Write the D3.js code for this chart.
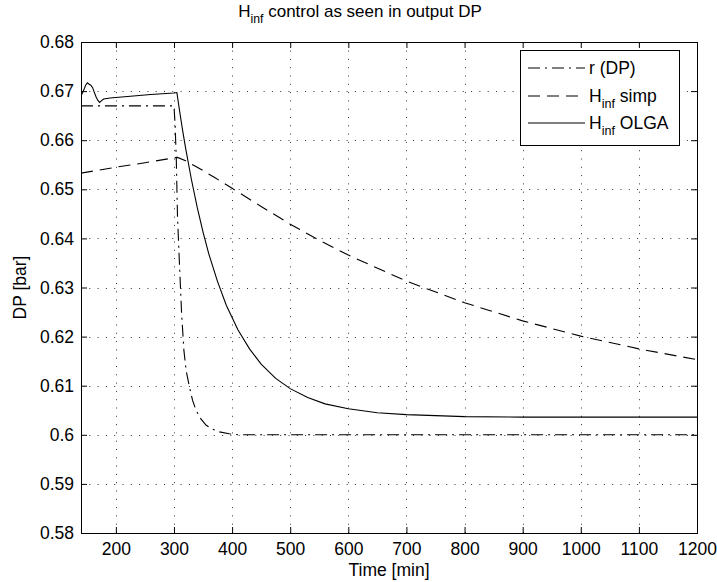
<!DOCTYPE html>
<html>
<head>
<meta charset="utf-8">
<script src="https://cdn.jsdelivr.net/npm/d3@7/dist/d3.min.js"></script>
<style>
  body { margin: 0; background: #fff; }
  svg { display: block; }
  text { font-family: "Liberation Sans", Arial, Helvetica, sans-serif; fill: #000; }
</style>
</head>
<body>
<svg id="chart" width="717" height="582"></svg>
<script>
// ---------------- data ----------------
const xTicks = [200, 300, 400, 500, 600, 700, 800, 900, 1000, 1100, 1200];
const yTicks = [0.58, 0.59, 0.60, 0.61, 0.62, 0.63, 0.64, 0.65, 0.66, 0.67, 0.68];
const yTickLabels = ["0.58", "0.59", "0.6", "0.61", "0.62", "0.63", "0.64", "0.65", "0.66", "0.67", "0.68"];
const xDomain = [140, 1200];
const yDomain = [0.58, 0.68];

// r (DP) reference: time, value
const refTime  = [140, 300, 302, 304, 306, 309, 313, 317, 321, 326, 332, 338, 346, 355, 365, 378, 395, 412, 1200];
const refValue = [0.667, 0.667, 0.6630, 0.6560, 0.6447, 0.6360, 0.6250, 0.6173, 0.6130, 0.6101, 0.6070, 0.6050, 0.6033, 0.6020, 0.6012, 0.6006, 0.6002, 0.6000, 0.6000];

// H_inf simp
const simpTime  = [140, 200, 250, 290, 306, 320, 340, 370, 400, 450, 500, 550, 600, 700, 800, 900, 1000, 1100, 1200];
const simpValue = [0.6533, 0.6545, 0.6554, 0.6562, 0.6565, 0.6558, 0.6545, 0.6524, 0.6502, 0.6465, 0.6429, 0.6396, 0.6366, 0.6313, 0.6269, 0.6232, 0.6201, 0.6175, 0.6153];

// H_inf OLGA
const olgaTime  = [140, 144, 148, 151, 154, 157, 160, 163, 166, 169, 172, 175, 179, 190, 220, 260, 300, 305,
                   310, 315, 320, 330, 340, 350, 360, 375, 390, 410, 430, 450, 475, 500, 530, 560, 600, 650, 700, 800, 900, 1000, 1200];
const olgaValue = [0.6690, 0.6700, 0.6712, 0.6717, 0.6714, 0.6712, 0.6707, 0.6697, 0.6688, 0.6681, 0.6677, 0.6680, 0.6684, 0.6686, 0.6689, 0.6693, 0.6696, 0.6697,
                   0.6657, 0.6619, 0.6584, 0.6520, 0.6463, 0.6413, 0.6368, 0.6312, 0.6264, 0.6214, 0.6175, 0.6144, 0.6115, 0.6094, 0.6076, 0.6063, 0.6053, 0.6045, 0.6041, 0.6037, 0.6036, 0.6036, 0.6036];

const legendLabels = [
  { main: "r (DP)", sub: "", rest: "" },
  { main: "H", sub: "inf", rest: " simp" },
  { main: "H", sub: "inf", rest: " OLGA" }
];

// ---------------- layout ----------------
const svg = d3.select("#chart");
const L = 81, R = 697, T = 42, B = 533;
const x = d3.scaleLinear().domain(xDomain).range([L, R]);
const y = d3.scaleLinear().domain(yDomain).range([B, T]);
const FS = 17.5;

// grid
const grid = svg.append("g");
grid.selectAll("line.gx").data(xTicks.filter(d => d < xDomain[1])).enter().append("line")
  .attr("x1", d => Math.round(x(d)) + 0.5).attr("x2", d => Math.round(x(d)) + 0.5)
  .attr("y1", B).attr("y2", T)
  .attr("stroke", "#333").attr("stroke-width", 1).attr("stroke-dasharray", "1,7.3");
grid.selectAll("line.gy").data(yTicks.filter(d => d > yDomain[0] && d < yDomain[1])).enter().append("line")
  .attr("y1", d => Math.round(y(d)) + 0.5).attr("y2", d => Math.round(y(d)) + 0.5)
  .attr("x1", L).attr("x2", R)
  .attr("stroke", "#333").attr("stroke-width", 1).attr("stroke-dasharray", "1,7.3");

// axes (box with inward ticks on all sides)
const tickLen = 6;
const axB = d3.axisBottom(x).tickValues(xTicks).tickSize(-tickLen).tickPadding(10).tickFormat(d3.format("d"));
const axT = d3.axisTop(x).tickValues(xTicks).tickSize(-tickLen).tickFormat("");
const axL = d3.axisLeft(y).tickValues(yTicks).tickSize(-tickLen).tickPadding(7).tickFormat((d, i) => yTickLabels[i]);
const axR = d3.axisRight(y).tickValues(yTicks).tickSize(-tickLen).tickFormat("");

function styleAxis(g) {
  g.select(".domain").remove();
  g.selectAll(".tick line").attr("stroke", "#000");
  g.selectAll(".tick text").attr("font-size", FS).attr("font-family", "Liberation Sans, Arial, sans-serif");
}
svg.append("g").attr("transform", `translate(0,${B})`).call(axB).call(styleAxis);
svg.append("g").attr("transform", `translate(0,${T})`).call(axT).call(styleAxis);
svg.append("g").attr("transform", `translate(${L},0)`).call(axL).call(styleAxis);
svg.append("g").attr("transform", `translate(${R},0)`).call(axR).call(styleAxis);

svg.append("rect").attr("x", L + 0.5).attr("y", T + 0.5).attr("width", R - L).attr("height", B - T)
  .attr("fill", "none").attr("stroke", "#000").attr("stroke-width", 1);

// lines
svg.append("clipPath").attr("id", "clip").append("rect")
  .attr("x", L).attr("y", T).attr("width", R - L).attr("height", B - T);
const line = d3.line().x(d => x(d[0])).y(d => y(d[1]));
const series = [
  { t: refTime, v: refValue, dash: "12,5,2,5" },
  { t: simpTime, v: simpValue, dash: "12,7" },
  { t: olgaTime, v: olgaValue, dash: null }
];
const pg = svg.append("g").attr("clip-path", "url(#clip)");
series.forEach(s => {
  const pts = s.t.map((t, i) => [t, s.v[i]]);
  pg.append("path").datum(pts).attr("d", line)
    .attr("fill", "none").attr("stroke", "#000").attr("stroke-width", 1.1)
    .attr("stroke-dasharray", s.dash);
});

// title
const title = svg.append("text").attr("x", 360).attr("y", 17).attr("text-anchor", "middle").attr("font-size", 17);
title.append("tspan").text("H");
title.append("tspan").attr("font-size", 17 * 0.72).attr("dy", 6).text("inf");
title.append("tspan").attr("dy", -6).text(" control as seen in output DP");

// axis labels
svg.append("text").attr("x", (L + R) / 2).attr("y", 576).attr("text-anchor", "middle").attr("font-size", FS).text("Time [min]");
svg.append("text").attr("transform", `translate(26,${(T + B) / 2}) rotate(-90)`).attr("text-anchor", "middle")
  .attr("font-size", FS).text("DP [bar]");

// legend
const lg = svg.append("g");
lg.append("rect").attr("x", 520.5).attr("y", 50.5).attr("width", 159).attr("height", 95)
  .attr("fill", "#fff").attr("stroke", "#000").attr("stroke-width", 1);
const rowY = [68, 96, 123];
legendLabels.forEach((lab, i) => {
  lg.append("line").attr("x1", 528).attr("x2", 585).attr("y1", rowY[i]).attr("y2", rowY[i])
    .attr("stroke", "#000").attr("stroke-width", 1.1).attr("stroke-dasharray", series[i].dash);
  const t = lg.append("text").attr("x", 589).attr("y", rowY[i] + 6).attr("font-size", FS);
  t.append("tspan").text(lab.main);
  if (lab.sub) {
    t.append("tspan").attr("font-size", FS * 0.72).attr("dy", 6).text(lab.sub);
    t.append("tspan").attr("dy", -6).text(lab.rest);
  }
});
</script>
</body>
</html>
